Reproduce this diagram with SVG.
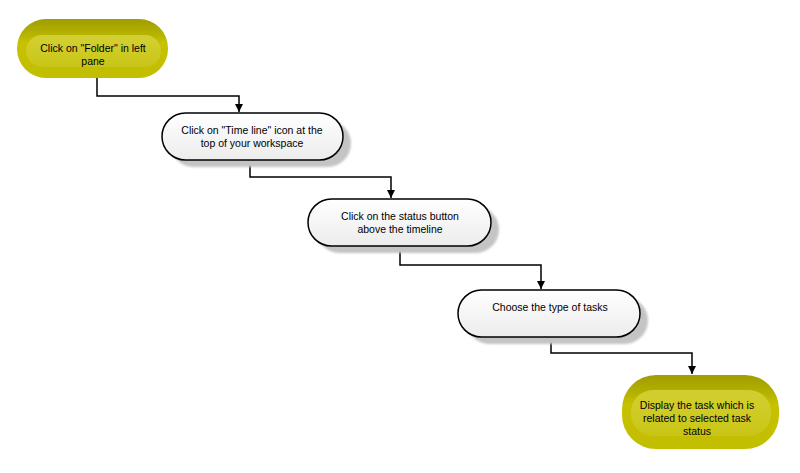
<svg xmlns="http://www.w3.org/2000/svg" width="800" height="473" viewBox="0 0 800 473">
<style>
.lbl{font-family:"Liberation Sans",Arial,sans-serif;font-size:10.5px;fill:#000;text-anchor:middle}
.pill{fill:url(#wg);stroke:#000;stroke-width:1.5}
.shadow{fill:#c4c4c4;filter:url(#blur)}
.conn{fill:none;stroke:#000;stroke-width:1.5}
.yout{fill:url(#yg)}
.yin{fill:url(#yi)}
</style>
<defs>
<linearGradient id="wg" x1="0" y1="0" x2="0" y2="1">
<stop offset="0" stop-color="#ffffff"/>
<stop offset="1" stop-color="#ececec"/>
</linearGradient>
<linearGradient id="yg" x1="0" y1="0" x2="0" y2="1">
<stop offset="0" stop-color="#a09d00"/>
<stop offset="0.25" stop-color="#b5b200"/>
<stop offset="0.4" stop-color="#c6c200"/>
<stop offset="1" stop-color="#c2be00"/>
</linearGradient>
<linearGradient id="yi" x1="0" y1="0" x2="0" y2="1">
<stop offset="0" stop-color="#d6d33c"/>
<stop offset="1" stop-color="#cac61a"/>
</linearGradient>
<filter id="blur" x="-10%" y="-20%" width="120%" height="140%">
<feGaussianBlur stdDeviation="1.2"/>
</filter>
<marker id="arr" viewBox="0 0 10 10" refX="10" refY="5" markerWidth="8" markerHeight="8" markerUnits="userSpaceOnUse" orient="auto">
<path d="M0,0 L10,5 L0,10 Z" fill="#000"/>
</marker>
</defs>
<rect width="800" height="473" fill="#fff"/>

<g id="connectors">
<path class="conn" d="M97,78 V96 H239 V112" marker-end="url(#arr)"/>
<path class="conn" d="M250,161 V177 H391 V198" marker-end="url(#arr)"/>
<path class="conn" d="M400,246 V265 H541 V289" marker-end="url(#arr)"/>
<path class="conn" d="M551,337 V353 H692 V374" marker-end="url(#arr)"/>
</g>

<g id="node1">
<rect class="yout" x="17" y="19" width="151" height="59" rx="29" ry="29"/>
<rect class="yin" x="26" y="35" width="135" height="32" rx="16" ry="16" opacity="0.85"/>
<text class="lbl" x="93" y="52">Click on "Folder" in left</text>
<text class="lbl" x="93" y="65">pane</text>
</g>

<g id="node2">
<rect class="shadow" x="170" y="120" width="181" height="47" rx="23.5"/>
<rect class="pill" x="162" y="113" width="181" height="47" rx="23.5"/>
<text class="lbl" x="252" y="134">Click on "Time line" icon at the</text>
<text class="lbl" x="252" y="147">top of your workspace</text>
</g>

<g id="node3">
<rect class="shadow" x="316" y="206" width="183" height="47" rx="23.5"/>
<rect class="pill" x="308" y="199" width="183" height="47" rx="23.5"/>
<text class="lbl" x="400" y="220">Click on the status button</text>
<text class="lbl" x="400" y="233">above the timeline</text>
</g>

<g id="node4">
<rect class="shadow" x="466" y="297" width="182" height="47" rx="23.5"/>
<rect class="pill" x="458" y="290" width="182" height="47" rx="23.5"/>
<text class="lbl" x="550" y="311">Choose the type of tasks</text>
</g>

<g id="node5">
<rect class="yout" x="622" y="375" width="157" height="74" rx="34" ry="34"/>
<rect class="yin" x="631" y="390" width="140" height="46" rx="22" ry="22" opacity="0.85"/>
<text class="lbl" x="697" y="409">Display the task which is</text>
<text class="lbl" x="697" y="422">related to selected task</text>
<text class="lbl" x="697" y="435">status</text>
</g>
</svg>
